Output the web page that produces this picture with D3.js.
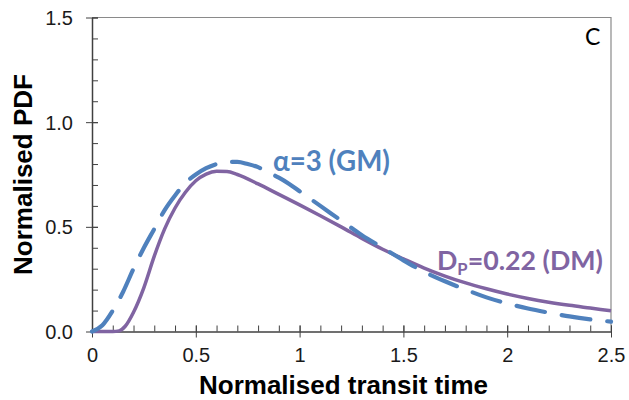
<!DOCTYPE html>
<html>
<head>
<meta charset="utf-8">
<script src="https://cdn.jsdelivr.net/npm/d3@7"></script>
<style>
  html, body { margin: 0; padding: 0; background: #fff; }
  svg { display: block; }
</style>
</head>
<body>
<svg id="chart" width="629" height="400"></svg>
<script>
// ---- data ----
const gmTimes = [0, 0.05, 0.1, 0.15, 0.2, 0.25, 0.3, 0.35, 0.4, 0.45, 0.5, 0.55, 0.6, 0.65, 0.7, 0.75, 0.8, 0.85, 0.9, 0.95, 1.0,
                 1.1, 1.2, 1.3, 1.4, 1.5, 1.6, 1.7, 1.8, 1.9, 2.0, 2.1, 2.2, 2.3, 2.4, 2.5];
const gmValues = [0, 0.03, 0.10, 0.19, 0.30, 0.40, 0.49, 0.58, 0.65, 0.71, 0.75, 0.78, 0.80, 0.81, 0.81, 0.80, 0.785, 0.76, 0.735, 0.705, 0.67,
                  0.60, 0.53, 0.46, 0.40, 0.34, 0.285, 0.24, 0.20, 0.163, 0.134, 0.11, 0.09, 0.072, 0.058, 0.047];
const dmTimes = [0, 0.1, 0.13, 0.16, 0.2, 0.25, 0.3, 0.35, 0.4, 0.45, 0.5, 0.55, 0.6, 0.65, 0.7, 0.8, 0.9, 1.0,
                 1.1, 1.2, 1.3, 1.4, 1.5, 1.6, 1.7, 1.8, 1.9, 2.0, 2.1, 2.2, 2.3, 2.4, 2.5];
const dmValues = [0, 0, 0.003, 0.025, 0.092, 0.21, 0.36, 0.49, 0.59, 0.665, 0.72, 0.752, 0.765, 0.764, 0.75, 0.705, 0.655, 0.605,
                  0.553, 0.50, 0.445, 0.393, 0.347, 0.303, 0.265, 0.232, 0.204, 0.179, 0.158, 0.14, 0.125, 0.112, 0.099];
const xTickValues = [0, 0.5, 1, 1.5, 2, 2.5];
const xTickLabels = ["0", "0.5", "1", "1.5", "2", "2.5"];
const yTickValues = [0, 0.5, 1.0, 1.5];
const yTickLabels = ["0.0", "0.5", "1.0", "1.5"];
const xTitle = "Normalised transit time";
const yTitle = "Normalised PDF";
const panelLabel = "C";

// ---- layout ----
const svg = d3.select("#chart");
const L = 92, R = 611, T = 17.5, B = 331.5;
const x = d3.scaleLinear().domain([0, 2.5]).range([L, R]);
const y = d3.scaleLinear().domain([0, 1.5]).range([B, T]);
const blue = "#4F81BD", purple = "#8064A2", axisCol = "#404040";

// frame (top/right grey)
svg.append("path")
  .attr("d", `M${L},${T}H${R}V${B}`)
  .attr("fill", "none").attr("stroke", "#8a8a8a").attr("stroke-width", 1.2);

// minor ticks (inside)
const minorX = d3.range(0, 26).map(i => i / 10);
const minorY = d3.range(0, 16).map(i => i / 10);
const gx = svg.append("g").attr("transform", `translate(0,${B})`)
  .call(d3.axisBottom(x).tickValues(minorX).tickSize(-6).tickFormat(""));
gx.select(".domain").remove();
gx.selectAll("line").attr("stroke", axisCol);
const gy = svg.append("g").attr("transform", `translate(${L},0)`)
  .call(d3.axisLeft(y).tickValues(minorY).tickSize(-6).tickFormat(""));
gy.select(".domain").remove();
gy.selectAll("line").attr("stroke", axisCol);

// major ticks (crossing) + labels
const gxM = svg.append("g").attr("transform", `translate(0,${B})`)
  .call(d3.axisBottom(x).tickValues(xTickValues).tickSizeInner(6).tickSizeOuter(0).tickPadding(10)
    .tickFormat((d, i) => xTickLabels[i]));
gxM.select(".domain").attr("stroke", axisCol).attr("stroke-width", 1.5);
gxM.selectAll("line").attr("stroke", axisCol).attr("y1", -6).attr("y2", 6);
gxM.selectAll("text").attr("font-family", "'Liberation Sans', Arial, sans-serif")
  .attr("font-size", 20).attr("fill", "#1a1a1a").attr("dy", "0.71em");

const gyM = svg.append("g").attr("transform", `translate(${L},0)`)
  .call(d3.axisLeft(y).tickValues(yTickValues).tickSizeInner(6).tickSizeOuter(0).tickPadding(13)
    .tickFormat((d, i) => yTickLabels[i]));
gyM.select(".domain").attr("stroke", axisCol).attr("stroke-width", 1.5);
gyM.selectAll("line").attr("stroke", axisCol).attr("x1", -6).attr("x2", 6);
gyM.selectAll("text").attr("font-family", "'Liberation Sans', Arial, sans-serif")
  .attr("font-size", 20).attr("fill", "#1a1a1a").attr("dy", "0.35em");

// curves
const line = d3.line().x(d => x(d[0])).y(d => y(d[1])).curve(d3.curveMonotoneX);
svg.append("path")
  .attr("d", line(dmTimes.map((t, i) => [t, dmValues[i]])))
  .attr("fill", "none").attr("stroke", purple).attr("stroke-width", 3.5)
  .attr("stroke-linejoin", "round");
svg.append("path")
  .attr("d", line(gmTimes.map((t, i) => [t, gmValues[i]])))
  .attr("fill", "none").attr("stroke", blue).attr("stroke-width", 4.2)
  .attr("stroke-dasharray", "29 17").attr("stroke-linecap", "round");

// titles
svg.append("text").text(xTitle)
  .attr("x", (L + R) / 2 - 8).attr("y", 394).attr("text-anchor", "middle")
  .attr("font-family", "'Liberation Sans', Arial, sans-serif").attr("font-weight", "bold")
  .attr("font-size", 26).attr("fill", "#000");
svg.append("text").text(yTitle)
  .attr("transform", `translate(32,${(T + B) / 2}) rotate(-90)`).attr("text-anchor", "middle")
  .attr("font-family", "'Liberation Sans', Arial, sans-serif").attr("font-weight", "bold")
  .attr("font-size", 26).attr("fill", "#000");

// panel label
svg.append("text").text(panelLabel)
  .attr("x", 585).attr("y", 45)
  .attr("font-family", "Lato, 'Open Sans', sans-serif").attr("font-size", 23).attr("fill", "#000");

// annotations
function fit(sel, target) {
  const w = sel.node().getComputedTextLength();
  const fs = parseFloat(sel.attr("font-size"));
  sel.attr("font-size", fs * target / w);
}
const gmLab = svg.append("text")
  .attr("x", 273).attr("y", 171)
  .attr("font-family", "Lato, 'Open Sans', sans-serif").attr("font-weight", "bold")
  .attr("font-size", 24).attr("fill", blue)
  .text("α=3 (GM)");
fit(gmLab, 117);

const dmLab = svg.append("text")
  .attr("x", 437).attr("y", 270)
  .attr("font-family", "Lato, 'Open Sans', sans-serif").attr("font-weight", "bold")
  .attr("font-size", 24).attr("fill", purple);
dmLab.append("tspan").text("D");
dmLab.append("tspan").text("P").attr("font-size", "0.62em").attr("dy", 5);
dmLab.append("tspan").text("=0.22 (DM)").attr("dy", -5);
fit(dmLab, 166);
</script>
</body>
</html>
